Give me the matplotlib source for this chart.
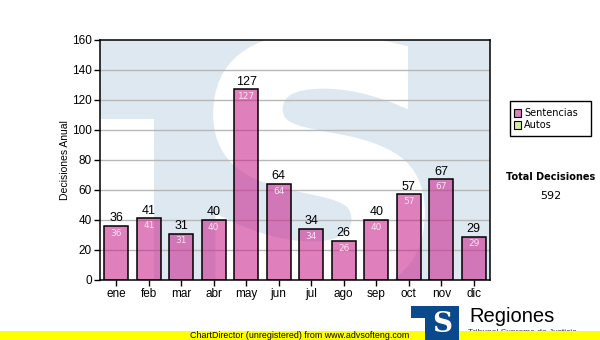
import matplotlib
matplotlib.use('Agg')
import matplotlib.pyplot as plt
import matplotlib.patheffects as pe
from matplotlib.patches import Rectangle, PathPatch
from matplotlib.textpath import TextPath
from matplotlib.font_manager import FontProperties
from matplotlib.transforms import Affine2D

months = ['ene', 'feb', 'mar', 'abr', 'may', 'jun',
          'jul', 'ago', 'sep', 'oct', 'nov', 'dic']
sentencias = [36, 41, 31, 40, 127, 64, 34, 26, 40, 57, 67, 29]
y_ticks = [0, 20, 40, 60, 80, 100, 120, 140, 160]
series_names = ['Sentencias', 'Autos']
total = sum(sentencias)

COLORS = {'bar': '#c9248c', 'wm': '#dee8f1', 'grid': '#b8b8b8',
          'sent': '#dc80c0', 'autos': '#d8eca0', 'logo': '#0a4a8c',
          'band': '#ffff00'}

W, H = 600, 340


def fx(px):
    return px / W


def fy(py):
    return 1 - py / H


def draw_watermark(ax, fig):
    # faded logo behind the bars: blue block, white notch under the T bar,
    # white S carved out of it (laid out in figure pixels)
    pix = Affine2D().scale(1 / W, 1 / H) + fig.transFigure
    ax.add_patch(Rectangle((95, 0), 59, H - 119, transform=pix,
                           color='white', lw=0, zorder=0))
    tp = TextPath((0, 0), 'S', size=100,
                  prop=FontProperties(family='DejaVu Sans', weight='bold'))
    ext = tp.get_extents()
    left, right, top, bottom = 218, 420, 38, 292
    fit = (Affine2D().translate(-ext.x0, -ext.y0)
           .scale((right - left) / ext.width, (bottom - top) / ext.height)
           .translate(left, H - bottom))
    s = PathPatch(fit.transform_path(tp), transform=pix,
                  facecolor='white', edgecolor='none', zorder=0.5,
                  path_effects=[pe.Stroke(linewidth=7, foreground='white'),
                                pe.Normal()])
    ax.add_patch(s)


fig = plt.figure(figsize=(W / 100, H / 100), dpi=100)
fig.patch.set_facecolor('white')
ax = fig.add_axes([fx(100), fy(280), fx(390), 240 / H])
ax.set_facecolor(COLORS['wm'])

draw_watermark(ax, fig)

x = range(len(months))
ax.bar(x, sentencias, width=0.74, color=COLORS['bar'], alpha=0.58,
       zorder=3)
ax.bar(x, sentencias, width=0.74, fill=False, edgecolor='black',
       linewidth=1.1, zorder=4)
for i, v in enumerate(sentencias):
    ax.text(i, v + 1, str(v), ha='center', va='bottom', fontsize=9,
            family='Liberation Sans', color='black', zorder=5)
    ax.text(i, v - 2, str(v), ha='center', va='top', fontsize=6.5,
            family='DejaVu Sans', color='#f8e4f2', zorder=5)

ax.set_xlim(-0.5, len(months) - 0.5)
ax.set_ylim(0, 160)
ax.set_yticks(y_ticks)
ax.set_yticklabels([str(v) for v in y_ticks], family='Liberation Sans',
                   fontsize=8.5)
ax.set_xticks(list(x))
ax.set_xticklabels(months, family='Liberation Sans', fontsize=8.5)
ax.tick_params(direction='out', length=4, width=1, pad=2, color='black')
for yv in y_ticks[1:-1]:
    ax.axhline(yv, color=COLORS['grid'], lw=1, zorder=1)
for sp in ax.spines.values():
    sp.set_linewidth(1.1)
    sp.set_zorder(6)
ax.set_ylabel('Decisiones Anual', family='Liberation Sans', fontsize=7.5,
              labelpad=1)

# legend box
fig.patches.append(Rectangle((fx(510), fy(136)), fx(81), 35 / H,
                             transform=fig.transFigure, fill=False,
                             edgecolor='black', lw=1))
for k, (name, col) in enumerate(zip(series_names,
                                    [COLORS['sent'], COLORS['autos']])):
    yc = 113 + k * 12
    fig.patches.append(Rectangle((fx(514), fy(yc + 3.5)), fx(7), 7 / H,
                                 transform=fig.transFigure, facecolor=col,
                                 edgecolor='black', lw=0.8))
    fig.text(fx(524), fy(yc), name, fontsize=7, family='DejaVu Sans',
             va='center', ha='left')

fig.text(fx(551), fy(177.5), 'Total Decisiones', fontsize=7,
         family='DejaVu Sans', weight='bold', ha='center', va='center')
fig.text(fx(551), fy(196), str(total), fontsize=8, family='DejaVu Sans',
         ha='center', va='center')

# footer band and logo
fig.patches.append(Rectangle((0, 0), 1, 9 / H, transform=fig.transFigure,
                             color=COLORS['band'], lw=0, zorder=2))
fig.text(fx(300), fy(335.5), 'ChartDirector (unregistered) from www.advsofteng.com',
         fontsize=6.4, family='Liberation Sans', ha='center', va='center',
         zorder=4)
fig.text(fx(468), fy(333), 'Tribunal Supremo de Justicia', fontsize=6,
         family='Liberation Sans', ha='left', va='center', color='#333333',
         zorder=1)
fig.patches.append(Rectangle((fx(411), fy(318)), fx(48), 12 / H,
                             transform=fig.transFigure, color=COLORS['logo'],
                             lw=0, zorder=3))
fig.patches.append(Rectangle((fx(425), 0), fx(34), fy(318),
                             transform=fig.transFigure, color=COLORS['logo'],
                             lw=0, zorder=3))
fig.text(fx(442), fy(325), 'S', fontsize=20, family='DejaVu Serif',
         weight='bold', color='white', ha='center', va='center', zorder=4)
fig.text(fx(469), fy(316), 'Regiones', fontsize=14.5, family='Liberation Sans',
         ha='left', va='center', zorder=4)

fig.savefig('out.png', dpi=100)
